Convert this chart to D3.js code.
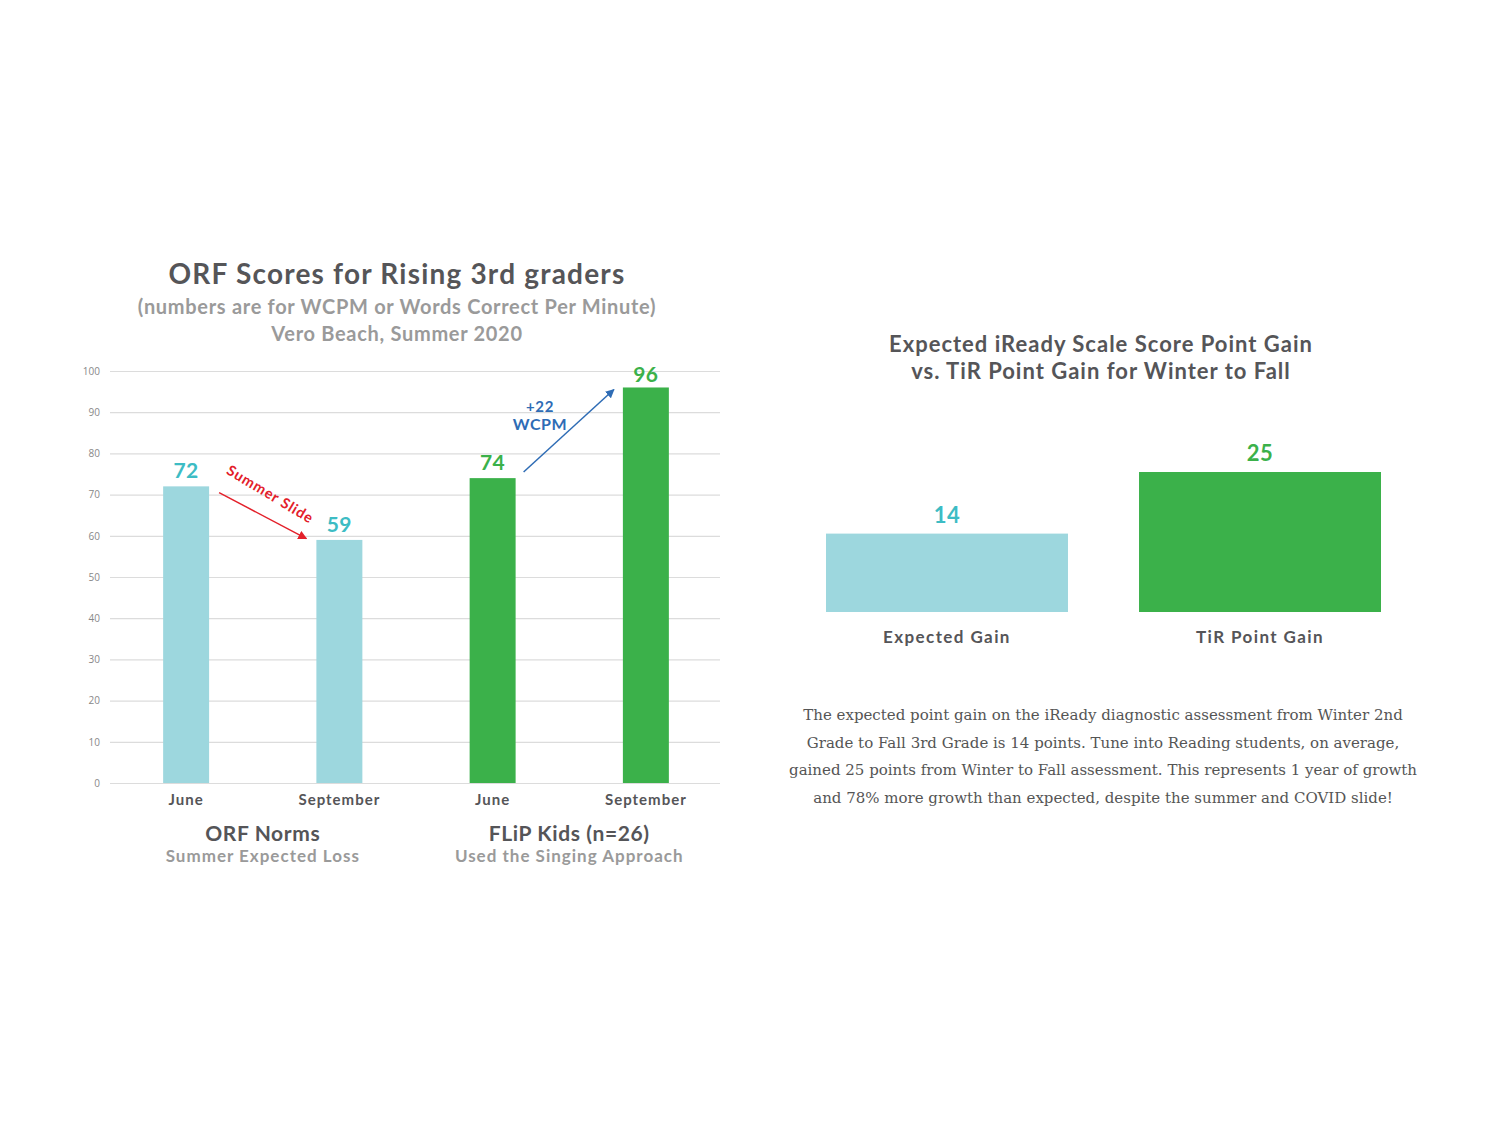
<!DOCTYPE html>
<html>
<head>
<meta charset="utf-8">
<script src="https://cdn.jsdelivr.net/npm/d3@7"></script>
<style>
  body { margin: 0; background: #fff; }
  svg text { font-family: Lato, "Open Sans", sans-serif; }
</style>
</head>
<body>
<svg id="chart" width="1500" height="1125"></svg>
<script>
// left chart data
const orfCategories = ['June', 'September', 'June ', 'September ']
const orfValues     = [72, 59, 74, 96]
const orfGroups     = ['ORF Norms', 'FLiP Kids (n=26)']
const orfGroupNotes = ['Summer Expected Loss', 'Used the Singing Approach']
const orfTicks      = [0, 10, 20, 30, 40, 50, 60, 70, 80, 90, 100]

// right chart data
const gainCategories = ['Expected Gain', 'TiR Point Gain']
const gainValues     = [14, 25]

const paragraph = [
    'The expected point gain on the iReady diagnostic assessment from Winter 2nd',
    'Grade to Fall 3rd Grade is 14 points. Tune into Reading students, on average,',
    'gained 25 points from Winter to Fall assessment. This represents 1 year of growth',
    'and 78% more growth than expected, despite the summer and COVID slide!'
]

const light = '#9dd7de', green = '#3bb14a', teal = '#3dbcc4'
const dark = '#555558', grey = '#9a9a9a'

const svg = d3.select('#chart')

svg.append('defs').selectAll('marker')
    .data([['red', '#e3202a'], ['blue', '#2e6cb5']])
    .join('marker')
    .attr('id', d => 'arrow-' + d[0])
    .attr('viewBox', '0 0 10 10')
    .attr('refX', 9).attr('refY', 5)
    .attr('markerWidth', 9).attr('markerHeight', 9)
    .attr('markerUnits', 'userSpaceOnUse')
    .attr('orient', 'auto')
    .append('path')
    .attr('d', 'M0,0 L10,5 L0,10 z')
    .attr('fill', d => d[1])

// ---------- left chart ----------
const x = d3.scaleBand()
    .domain(orfCategories)
    .range([109.5, 722.5])
    .paddingInner(0.7)
    .paddingOuter(0.35)

const y = d3.scaleLinear().domain([0, 100]).range([783, 371])

const left = svg.append('g')

left.append('g')
    .attr('transform', 'translate(110,0)')
    .call(d3.axisLeft(y).tickValues(orfTicks).tickSize(-610).tickPadding(10))
    .call(g => g.select('.domain').remove())
    .call(g => g.selectAll('line').attr('stroke', '#dcdcdc').attr('stroke-width', 1.2))
    .call(g => g.selectAll('text')
        .attr('fill', '#888').style('font-size', '10px')
        .style('font-family', '"Open Sans", sans-serif'))

left.selectAll('.bar')
    .data(orfValues)
    .join('rect')
    .attr('class', 'bar')
    .attr('x', (d, i) => x(orfCategories[i]))
    .attr('y', d => y(d))
    .attr('width', x.bandwidth())
    .attr('height', d => y(0) - y(d))
    .attr('fill', (d, i) => i < 2 ? light : green)

left.selectAll('.value')
    .data(orfValues)
    .join('text')
    .attr('class', 'value')
    .attr('x', (d, i) => x(orfCategories[i]) + x.bandwidth() / 2)
    .attr('y', d => y(d) - (d > 90 ? 5 : 8))
    .attr('text-anchor', 'middle')
    .attr('fill', (d, i) => i < 2 ? teal : green)
    .style('font-size', '21px')
    .style('font-weight', 'bold')
    .style('letter-spacing', '0.5px')
    .text(d => d)

left.selectAll('.cat')
    .data(orfCategories)
    .join('text')
    .attr('class', 'cat')
    .attr('x', d => x(d) + x.bandwidth() / 2)
    .attr('y', 805)
    .attr('text-anchor', 'middle')
    .attr('fill', dark)
    .style('font-size', '15px')
    .style('font-weight', 'bold')
    .style('letter-spacing', '1px')
    .text(d => d.trim())

const groupX = i => (x(orfCategories[i * 2]) + x(orfCategories[i * 2 + 1]) + x.bandwidth()) / 2

left.selectAll('.group')
    .data(orfGroups)
    .join('text')
    .attr('class', 'group')
    .attr('x', (d, i) => groupX(i))
    .attr('y', 841)
    .attr('text-anchor', 'middle')
    .attr('fill', dark)
    .style('font-size', '21px')
    .style('font-weight', 'bold')
    .style('letter-spacing', '0.6px')
    .text(d => d)

left.selectAll('.note')
    .data(orfGroupNotes)
    .join('text')
    .attr('class', 'note')
    .attr('x', (d, i) => groupX(i))
    .attr('y', 862)
    .attr('text-anchor', 'middle')
    .attr('fill', grey)
    .style('font-size', '17px')
    .style('font-weight', 'bold')
    .style('letter-spacing', '1px')
    .text(d => d)

// titles
left.append('text')
    .attr('x', 397).attr('y', 284)
    .attr('text-anchor', 'middle')
    .attr('fill', dark)
    .style('font-size', '28px').style('font-weight', 'bold')
    .style('letter-spacing', '1.2px')
    .text('ORF Scores for Rising 3rd graders')

left.selectAll('.sub')
    .data(['(numbers are for WCPM or Words Correct Per Minute)', 'Vero Beach, Summer 2020'])
    .join('text')
    .attr('class', 'sub')
    .attr('x', 397)
    .attr('y', (d, i) => 314 + i * 27)
    .attr('text-anchor', 'middle')
    .attr('fill', grey)
    .style('font-size', '20px').style('font-weight', 'bold')
    .style('letter-spacing', '0.7px')
    .text(d => d)

// annotations
const bw = x.bandwidth()
const slide = { x1: x(orfCategories[0]) + bw + 10, y1: y(70.5), x2: x(orfCategories[1]) - 10, y2: y(59.3) }
const gain  = { x1: x(orfCategories[2]) + bw + 8,  y1: y(75.5), x2: x(orfCategories[3]) - 9,  y2: y(95.5) }

left.append('line')
    .attr('x1', slide.x1).attr('y1', slide.y1)
    .attr('x2', slide.x2).attr('y2', slide.y2)
    .attr('stroke', '#e3202a').attr('stroke-width', 1.5)
    .attr('marker-end', 'url(#arrow-red)')

left.append('text')
    .attr('transform', `translate(${(slide.x1 + slide.x2) / 2 + 5},${(slide.y1 + slide.y2) / 2 - 17}) rotate(31)`)
    .attr('text-anchor', 'middle')
    .attr('fill', '#e3202a')
    .style('font-size', '14.5px').style('font-weight', 'bold')
    .style('letter-spacing', '0.9px')
    .text('Summer Slide')

left.append('line')
    .attr('x1', gain.x1).attr('y1', gain.y1)
    .attr('x2', gain.x2).attr('y2', gain.y2)
    .attr('stroke', '#2e6cb5').attr('stroke-width', 1.5)
    .attr('marker-end', 'url(#arrow-blue)')

left.selectAll('.gainlbl')
    .data(['+22', 'WCPM'])
    .join('text')
    .attr('class', 'gainlbl')
    .attr('x', 540)
    .attr('y', (d, i) => 412 + i * 18)
    .attr('text-anchor', 'middle')
    .attr('fill', '#2e6cb5')
    .style('font-size', (d, i) => i ? '16px' : '15px')
    .style('font-weight', 'bold')
    .style('letter-spacing', '0.6px')
    .text(d => d)

// ---------- right chart ----------
const x2 = d3.scaleBand()
    .domain(gainCategories)
    .range([826, 1381])
    .paddingInner(0.227)

const y2 = d3.scaleLinear().domain([0, 30]).range([612, 444])

const right = svg.append('g')

right.selectAll('.title2')
    .data(['Expected iReady Scale Score Point Gain', 'vs. TiR Point Gain for Winter to Fall'])
    .join('text')
    .attr('class', 'title2')
    .attr('x', 1101)
    .attr('y', (d, i) => 352 + i * 27)
    .attr('text-anchor', 'middle')
    .attr('fill', dark)
    .style('font-size', '22px').style('font-weight', 'bold')
    .style('letter-spacing', '1px')
    .text(d => d)

right.selectAll('.bar2')
    .data(gainValues)
    .join('rect')
    .attr('class', 'bar2')
    .attr('x', (d, i) => x2(gainCategories[i]))
    .attr('y', d => y2(d))
    .attr('width', x2.bandwidth())
    .attr('height', d => y2(0) - y2(d))
    .attr('fill', (d, i) => i ? green : light)

right.selectAll('.value2')
    .data(gainValues)
    .join('text')
    .attr('class', 'value2')
    .attr('x', (d, i) => x2(gainCategories[i]) + x2.bandwidth() / 2)
    .attr('y', d => y2(d) - 11)
    .attr('text-anchor', 'middle')
    .attr('fill', (d, i) => i ? green : teal)
    .style('font-size', '22px').style('font-weight', 'bold')
    .style('letter-spacing', '0.5px')
    .text(d => d)

right.selectAll('.cat2')
    .data(gainCategories)
    .join('text')
    .attr('class', 'cat2')
    .attr('x', d => x2(d) + x2.bandwidth() / 2)
    .attr('y', 643)
    .attr('text-anchor', 'middle')
    .attr('fill', dark)
    .style('font-size', '17px').style('font-weight', 'bold')
    .style('letter-spacing', '1.4px')
    .text(d => d)

right.selectAll('.para')
    .data(paragraph)
    .join('text')
    .attr('class', 'para')
    .attr('x', 1103)
    .attr('y', (d, i) => 720 + i * 27.7)
    .attr('text-anchor', 'middle')
    .attr('fill', '#555')
    .style('font-family', '"DejaVu Serif", serif')
    .style('font-size', '15px')
    .text(d => d)
</script>
</body>
</html>
